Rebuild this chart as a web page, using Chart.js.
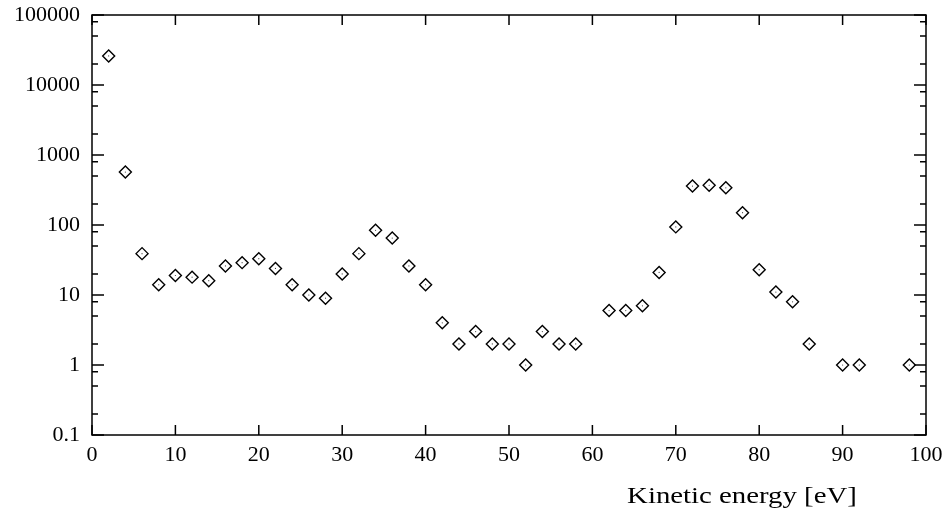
<!DOCTYPE html>
<html>
<head>
<meta charset="UTF-8">
<script src="https://cdn.jsdelivr.net/npm/chart.js"></script>
<style>
  body { margin: 0; background: #fff; }
  #chart { display: block; }
</style>
</head>
<body>
<canvas id="chart" width="949" height="515"></canvas>
<script>
const energies = [2, 4, 6, 8, 10, 12, 14, 16, 18, 20, 22, 24, 26, 28, 30, 32, 34, 36, 38, 40,
  42, 44, 46, 48, 50, 52, 54, 56, 58, 62, 64, 66, 68, 70, 72, 74, 76, 78, 80, 82, 84, 86, 90, 92, 98];
const counts = [26000, 570, 39, 14, 19, 18, 16, 26, 29, 33, 24, 14, 10, 9, 20, 39, 84, 65, 26, 14,
  4, 2, 3, 2, 2, 1, 3, 2, 2, 6, 6, 7, 21, 94, 360, 370, 340, 150, 23, 11, 8, 2, 1, 1, 1];
const xTicks = [0, 10, 20, 30, 40, 50, 60, 70, 80, 90, 100];
const yTicks = [0.1, 1, 10, 100, 1000, 10000, 100000];
const minorFactors = [2, 5, 8];
const xTitle = 'Kinetic energy [eV]';

const FONT = 'Liberation Serif';
const points = energies.map((e, i) => ({ x: e, y: counts[i] }));

// axis frame + inward ticks, like the original plot
const frameTicks = {
  id: 'frameTicks',
  afterDatasetsDraw(chart) {
    const { ctx, chartArea: a, scales: { x, y } } = chart;
    ctx.save();
    ctx.strokeStyle = '#000';
    ctx.lineWidth = 1.5;
    ctx.strokeRect(a.left, a.top, a.right - a.left, a.bottom - a.top);
    ctx.beginPath();
    xTicks.forEach(v => {
      const px = x.getPixelForValue(v);
      ctx.moveTo(px, a.bottom); ctx.lineTo(px, a.bottom - 10);
      ctx.moveTo(px, a.top); ctx.lineTo(px, a.top + 10);
    });
    yTicks.forEach(v => {
      const py = y.getPixelForValue(v);
      ctx.moveTo(a.left, py); ctx.lineTo(a.left + 12, py);
      ctx.moveTo(a.right, py); ctx.lineTo(a.right - 12, py);
      if (v < 100000) {
        minorFactors.forEach(f => {
          const pm = y.getPixelForValue(v * f);
          ctx.moveTo(a.left, pm); ctx.lineTo(a.left + 6, pm);
          ctx.moveTo(a.right, pm); ctx.lineTo(a.right - 6, pm);
        });
      }
    });
    ctx.stroke();

    // axis title, slightly widened like the source rendering
    ctx.fillStyle = '#000';
    ctx.font = '24px ' + FONT;
    ctx.textAlign = 'center';
    ctx.textBaseline = 'middle';
    ctx.translate(742, 497);
    ctx.scale(1.2, 1);
    ctx.fillText(xTitle, 0, 0);
    ctx.restore();
  }
};

new Chart(document.getElementById('chart'), {
  type: 'scatter',
  data: {
    datasets: [{
      data: points,
      pointStyle: 'rectRot',
      pointRadius: 6,
      pointHoverRadius: 6,
      borderColor: '#000',
      backgroundColor: 'rgba(0,0,0,0)',
      borderWidth: 1.4
    }, {
      data: points,
      pointStyle: 'circle',
      pointRadius: 0.6,
      borderWidth: 0,
      backgroundColor: '#444'
    }]
  },
  options: {
    responsive: false,
    animation: false,
    layout: { padding: { top: 15, right: 23, left: 0, bottom: 0 } },
    plugins: { legend: { display: false }, tooltip: { enabled: false } },
    scales: {
      x: {
        type: 'linear',
        min: 0,
        max: 100,
        afterBuildTicks: s => { s.ticks = xTicks.map(v => ({ value: v })); },
        afterFit: s => { s.height = 80; s.paddingLeft = 0; s.paddingRight = 0; },
        grid: { display: false, drawTicks: false },
        border: { display: false },
        ticks: { color: '#000', font: { family: FONT, size: 22 }, padding: 7, maxRotation: 0 }
      },
      y: {
        type: 'logarithmic',
        min: 0.1,
        max: 100000,
        afterBuildTicks: s => { s.ticks = yTicks.map(v => ({ value: v })); },
        afterFit: s => { s.width = 92; s.paddingTop = 0; s.paddingBottom = 0; },
        grid: { display: false, drawTicks: false },
        border: { display: false },
        ticks: {
          color: '#000',
          font: { family: FONT, size: 22 },
          padding: 12,
          callback: v => String(v)
        }
      }
    }
  },
  plugins: [frameTicks]
});
</script>
</body>
</html>
